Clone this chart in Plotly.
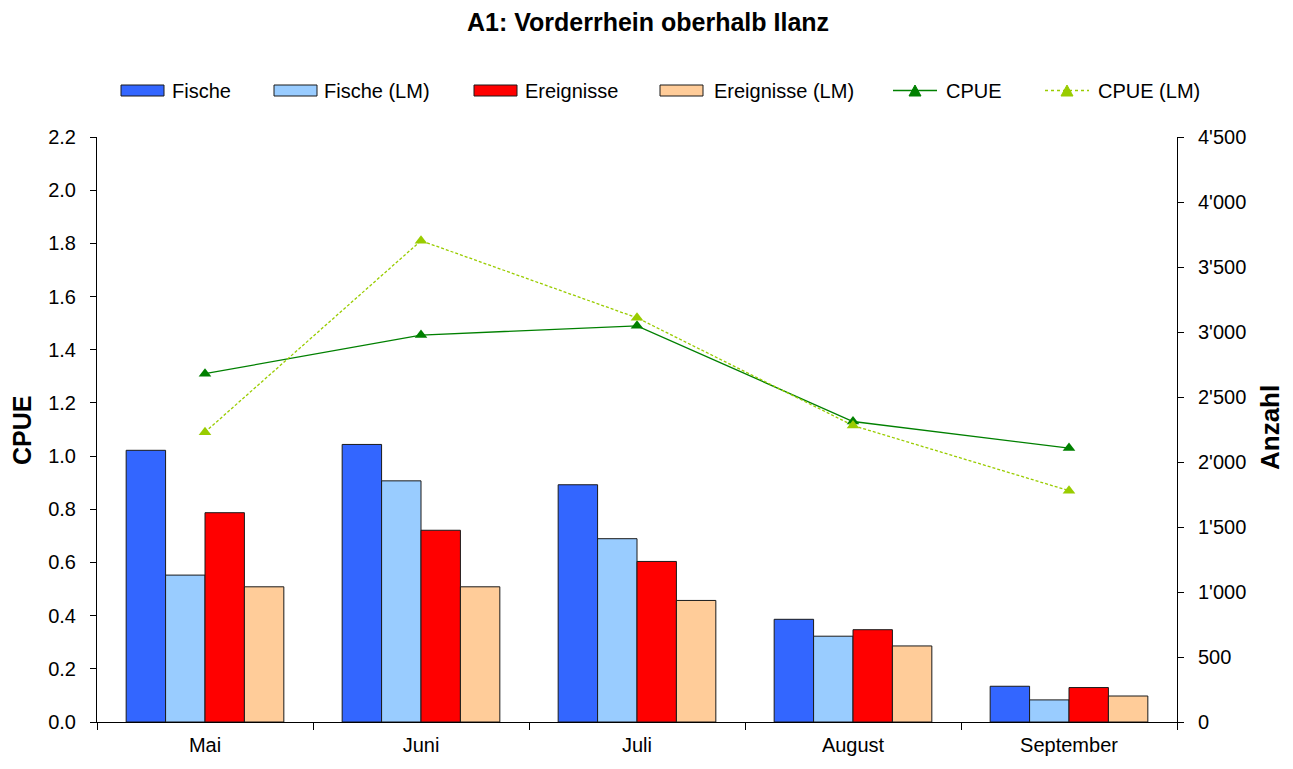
import plotly.graph_objects as go

# Data
months = ["Mai", "Juni", "Juli", "August", "September"]
fische = [2090, 2135, 1825, 790, 275]
fische_lm = [1130, 1855, 1410, 660, 170]
ereignisse = [1610, 1475, 1235, 710, 265]
ereignisse_lm = [1040, 1040, 935, 585, 200]
cpue = [1.31, 1.455, 1.49, 1.13, 1.03]
cpue_lm = [1.09, 1.81, 1.52, 1.115, 0.87]

FONT = "Liberation Sans, Arial, sans-serif"
# the page body adds an 8px margin, so the figure is a bit smaller than the window
OFF = 8
W, H = 1277, 753
L, R, T, B = 89, 108, 129, 39


# page pixel -> paper coordinate helpers (for title/legend placement)
def px(x):
    return (x - OFF - L) / (W - L - R)


def py(y):
    return (H - B - (y - OFF)) / (H - T - B)


fig = go.Figure()

bar_specs = [
    ("Fische", fische, "#3366FF"),
    ("Fische (LM)", fische_lm, "#99CCFF"),
    ("Ereignisse", ereignisse, "#FF0000"),
    ("Ereignisse (LM)", ereignisse_lm, "#FFCC99"),
]
for name, vals, col in bar_specs:
    fig.add_trace(go.Bar(
        x=months, y=vals, name=name, showlegend=False,
        marker=dict(color=col, line=dict(color="#1a1a1a", width=1)),
        yaxis="y",
    ))

line_specs = [
    ("CPUE", cpue, "#008000", "solid"),
    ("CPUE (LM)", cpue_lm, "#99CC00", "3px,2px"),
]
for name, vals, col, dash in line_specs:
    fig.add_trace(go.Scatter(
        x=months, y=vals, name=name, mode="lines+markers", showlegend=False,
        line=dict(color=col, width=1.3, dash=dash),
        marker=dict(symbol="triangle-up", size=11, color=col),
        yaxis="y2",
    ))

# manual legend (wide rectangles like the original)
shapes = []
annotations = []
legend_rects = [(121, 170, "Fische", "#3366FF"),
                (274, 322, "Fische (LM)", "#99CCFF"),
                (474, 523, "Ereignisse", "#FF0000"),
                (660, 712, "Ereignisse (LM)", "#FFCC99")]
for x0, tx, label, col in legend_rects:
    shapes.append(dict(type="rect", xref="paper", yref="paper",
                       x0=px(x0), x1=px(x0 + 43), y0=py(96), y1=py(85),
                       fillcolor=col, line=dict(color="#1a1a1a", width=1)))
    annotations.append(dict(text=label, xref="paper", yref="paper", x=px(tx), y=py(90.5),
                            xanchor="left", yanchor="middle", showarrow=False,
                            font=dict(size=20)))
legend_lines = [(893, 944, "CPUE", "#008000", "solid"),
                (1045, 1096, "CPUE (LM)", "#99CC00", "dot")]
for x0, tx, label, col, dash in legend_lines:
    shapes.append(dict(type="line", xref="paper", yref="paper",
                       x0=px(x0), x1=px(x0 + 44), y0=py(90.5), y1=py(90.5),
                       line=dict(color=col, width=1.5, dash=dash)))
    cx = x0 + 22
    path = f"M {px(cx - 6)},{py(96)} L {px(cx + 6)},{py(96)} L {px(cx)},{py(85)} Z"
    shapes.append(dict(type="path", xref="paper", yref="paper", path=path,
                       fillcolor=col, line=dict(color=col, width=1)))
    annotations.append(dict(text=label, xref="paper", yref="paper", x=px(tx), y=py(90.5),
                            xanchor="left", yanchor="middle", showarrow=False,
                            font=dict(size=20)))

# title and axis titles
annotations.append(dict(text="<b>A1: Vorderrhein oberhalb Ilanz</b>", xref="paper", yref="paper",
                        x=px(648), y=py(22), xanchor="center", yanchor="middle",
                        showarrow=False, font=dict(size=25)))
annotations.append(dict(text="<b>CPUE</b>", xref="paper", yref="paper",
                        x=px(22), y=py(431), xanchor="center", yanchor="middle",
                        textangle=-90, showarrow=False, font=dict(size=25)))
annotations.append(dict(text="<b>Anzahl</b>", xref="paper", yref="paper",
                        x=px(1270), y=py(428), xanchor="center", yanchor="middle",
                        textangle=-90, showarrow=False, font=dict(size=26)))

fig.update_layout(
    width=W, height=H,
    paper_bgcolor="white", plot_bgcolor="white",
    font=dict(family=FONT, size=20, color="black"),
    separators=".'",
    margin=dict(l=L, r=R, t=T, b=B),
    barmode="group", bargap=0.27, bargroupgap=0,
    showlegend=False,
    shapes=shapes, annotations=annotations,
    xaxis=dict(
        automargin=False,
        showline=True, linecolor="black", linewidth=1,
        ticks="outside", ticklen=7, tickcolor="black", tickson="boundaries",
        showgrid=False, tickfont=dict(size=20), ticklabelstandoff=5,
    ),
    yaxis=dict(
        automargin=False,
        side="right", range=[0, 4500], tickvals=[i * 500 for i in range(10)],
        tickformat=",.0f", showgrid=False, zeroline=False,
        showline=True, linecolor="black", linewidth=1,
        ticks="outside", ticklen=6, tickcolor="black", tickfont=dict(size=20),
        ticklabelstandoff=10,
    ),
    yaxis2=dict(
        automargin=False,
        side="left", overlaying="y", range=[0, 2.2],
        tickvals=[i * 0.2 for i in range(12)], tickformat=".1f",
        showgrid=False, zeroline=False,
        showline=True, linecolor="black", linewidth=1,
        ticks="outside", ticklen=6, tickcolor="black", tickfont=dict(size=20),
        ticklabelstandoff=10,
    ),
)

fig.write_html("out.html")
